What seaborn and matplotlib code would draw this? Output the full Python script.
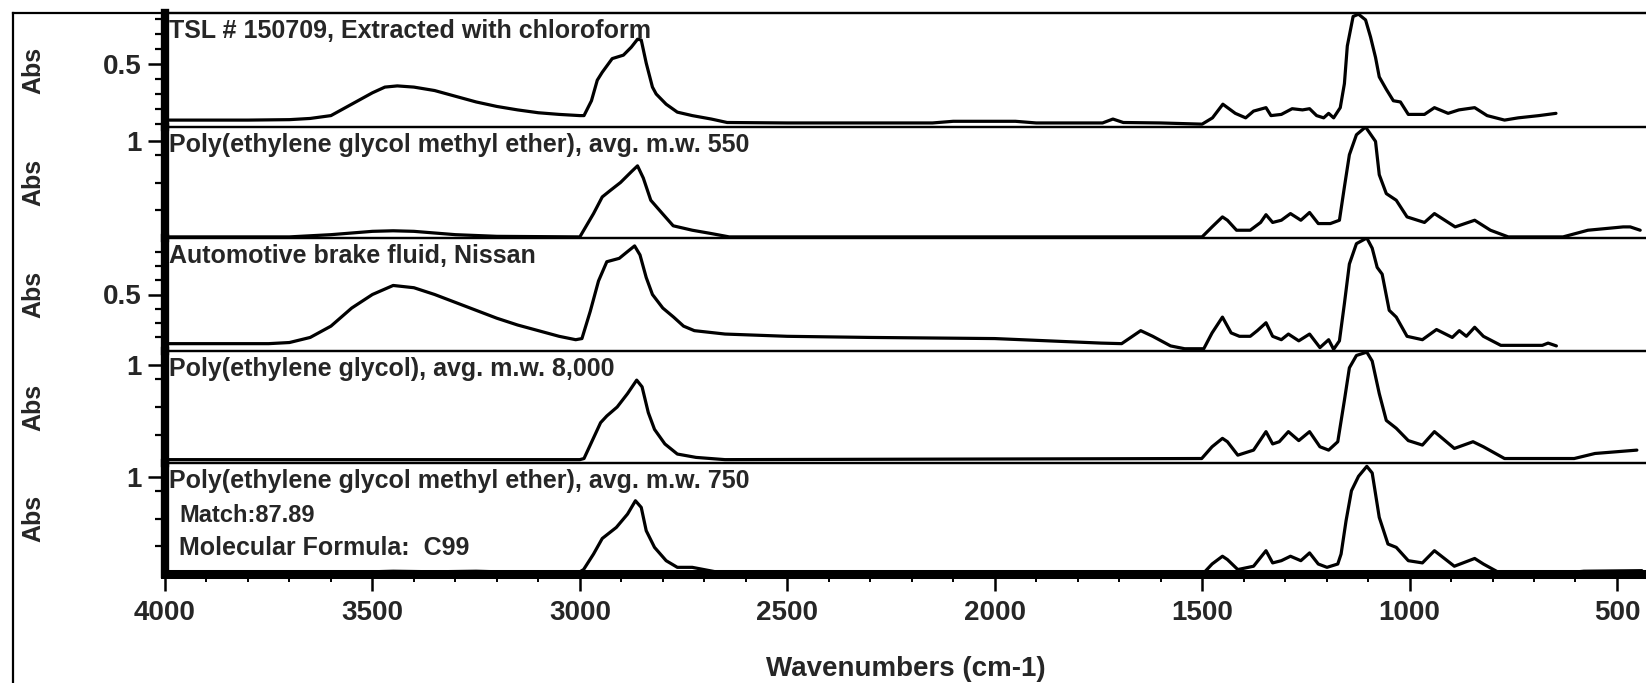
import matplotlib
matplotlib.use("Agg")
import matplotlib.pyplot as plt
import seaborn as sns
import pandas as pd

# ---------------- data ----------------
titles = [
    "TSL # 150709, Extracted with chloroform",
    "Poly(ethylene glycol methyl ether), avg. m.w. 550",
    "Automotive brake fluid, Nissan",
    "Poly(ethylene glycol), avg. m.w. 8,000",
    "Poly(ethylene glycol methyl ether), avg. m.w. 750",
]
match_text = "Match:87.89"
formula_text = "Molecular Formula:  C99"

x_ticks = [4000, 3500, 3000, 2500, 2000, 1500, 1000, 500]
x_tick_labels = ["4000", "3500", "3000", "2500", "2000", "1500", "1000", "500"]

wn_tsl = [4000, 3800, 3700, 3650, 3600, 3550, 3500, 3470, 3440, 3400, 3350, 3300, 3250, 3200,
          3150, 3100, 3050, 3000, 2990, 2972, 2958, 2946, 2922, 2895, 2876, 2861, 2852, 2840,
          2825, 2816, 2792, 2765, 2729, 2683, 2645, 2500, 2150, 2100, 1950, 1900, 1740, 1715,
          1690, 1600, 1500, 1475, 1450, 1420, 1395, 1376, 1346, 1334, 1309, 1283, 1258, 1241,
          1224, 1207, 1195, 1183, 1167, 1157, 1150, 1136, 1123, 1106, 1094, 1082, 1073, 1056,
          1039, 1022, 1003, 964, 940, 907, 881, 843, 813, 771, 738, 688, 647]
abs_tsl = [0.126, 0.126, 0.129, 0.137, 0.156, 0.232, 0.308, 0.346, 0.354, 0.346, 0.323, 0.285,
           0.247, 0.217, 0.194, 0.175, 0.164, 0.156, 0.156, 0.255, 0.392, 0.445, 0.536, 0.559,
           0.612, 0.665, 0.660, 0.506, 0.346, 0.300, 0.232, 0.179, 0.156, 0.133, 0.110, 0.107,
           0.107, 0.118, 0.118, 0.107, 0.107, 0.133, 0.110, 0.107, 0.099, 0.141, 0.232, 0.171,
           0.141, 0.186, 0.209, 0.156, 0.164, 0.202, 0.194, 0.202, 0.156, 0.141, 0.171, 0.141,
           0.209, 0.369, 0.620, 0.817, 0.832, 0.794, 0.680, 0.544, 0.414, 0.331, 0.255, 0.247,
           0.164, 0.164, 0.209, 0.171, 0.194, 0.209, 0.156, 0.126, 0.141, 0.156, 0.171]

wn_peg550 = [4000, 3700, 3600, 3500, 3450, 3400, 3300, 3200, 3000, 2967, 2946, 2926, 2902, 2875,
             2861, 2847, 2829, 2801, 2775, 2729, 2683, 2640, 1500, 1476, 1451, 1439, 1417, 1384,
             1359, 1346, 1330, 1309, 1287, 1262, 1241, 1220, 1191, 1169, 1157, 1145, 1128, 1106,
             1082, 1073, 1056, 1032, 1006, 964, 940, 890, 843, 805, 762, 630, 570, 485, 468, 444]
abs_peg550 = [0.308, 0.308, 0.324, 0.348, 0.352, 0.348, 0.324, 0.312, 0.308, 0.476, 0.596, 0.644,
              0.700, 0.780, 0.820, 0.732, 0.572, 0.476, 0.388, 0.356, 0.332, 0.308, 0.308, 0.380,
              0.452, 0.428, 0.356, 0.356, 0.412, 0.468, 0.412, 0.428, 0.476, 0.428, 0.484, 0.404,
              0.404, 0.428, 0.668, 0.900, 1.044, 1.100, 0.996, 0.756, 0.620, 0.572, 0.452, 0.412,
              0.476, 0.380, 0.428, 0.356, 0.308, 0.308, 0.356, 0.380, 0.380, 0.356]

wn_brake = [4000, 3750, 3700, 3650, 3600, 3550, 3500, 3450, 3400, 3350, 3300, 3250, 3200, 3150,
            3100, 3050, 3010, 2995, 2975, 2955, 2935, 2905, 2885, 2868, 2855, 2840, 2825, 2800,
            2774, 2750, 2724, 2650, 2500, 2300, 2000, 1744, 1694, 1648, 1619, 1576, 1542, 1496,
            1476, 1451, 1430, 1410, 1384, 1367, 1346, 1330, 1309, 1292, 1267, 1241, 1216, 1195,
            1183, 1169, 1157, 1145, 1128, 1103, 1090, 1078, 1066, 1049, 1032, 1006, 969, 935,
            897, 880, 863, 843, 822, 780, 680, 666, 646]
abs_brake = [0.152, 0.152, 0.160, 0.196, 0.276, 0.404, 0.500, 0.564, 0.548, 0.500, 0.444, 0.388,
             0.332, 0.284, 0.244, 0.204, 0.180, 0.188, 0.380, 0.596, 0.732, 0.756, 0.804, 0.844,
             0.780, 0.620, 0.500, 0.404, 0.340, 0.276, 0.244, 0.220, 0.204, 0.196, 0.188, 0.156,
             0.152, 0.244, 0.204, 0.136, 0.116, 0.116, 0.228, 0.340, 0.228, 0.204, 0.204, 0.244,
             0.300, 0.204, 0.180, 0.220, 0.172, 0.220, 0.124, 0.180, 0.112, 0.172, 0.436, 0.716,
             0.860, 0.900, 0.828, 0.692, 0.644, 0.388, 0.340, 0.204, 0.180, 0.252, 0.196, 0.244,
             0.204, 0.268, 0.204, 0.140, 0.140, 0.156, 0.136]

wn_peg8000 = [4000, 3000, 2990, 2970, 2950, 2935, 2910, 2885, 2863, 2850, 2835, 2820, 2795, 2765,
              2720, 2650, 1501, 1476, 1451, 1439, 1414, 1376, 1346, 1330, 1314, 1292, 1267, 1241,
              1216, 1195, 1173, 1157, 1145, 1128, 1103, 1090, 1073, 1056, 1032, 1003, 969, 940,
              892, 847, 822, 771, 603, 553, 452]
abs_peg8000 = [0.324, 0.324, 0.332, 0.460, 0.588, 0.636, 0.700, 0.796, 0.892, 0.844, 0.660, 0.540,
               0.436, 0.364, 0.340, 0.324, 0.332, 0.416, 0.476, 0.452, 0.356, 0.392, 0.524, 0.436,
               0.452, 0.524, 0.460, 0.524, 0.416, 0.392, 0.452, 0.748, 0.980, 1.068, 1.092, 1.028,
               0.796, 0.604, 0.548, 0.460, 0.428, 0.524, 0.404, 0.452, 0.416, 0.332, 0.332, 0.368,
               0.392]

wn_peg750 = [4000, 3600, 3450, 3350, 3250, 3100, 3004, 2991, 2967, 2946, 2912, 2885, 2866, 2852,
             2840, 2820, 2792, 2765, 2729, 2673, 2600, 1496, 1476, 1451, 1439, 1414, 1376, 1346,
             1330, 1309, 1287, 1262, 1241, 1220, 1199, 1173, 1165, 1153, 1140, 1123, 1103, 1090,
             1073, 1052, 1032, 1003, 969, 940, 892, 843, 822, 788, 620, 580, 440]
abs_peg750 = [0.308, 0.308, 0.320, 0.316, 0.320, 0.308, 0.308, 0.332, 0.444, 0.556, 0.636, 0.732,
              0.828, 0.780, 0.612, 0.492, 0.396, 0.348, 0.348, 0.316, 0.308, 0.308, 0.372, 0.428,
              0.404, 0.332, 0.356, 0.468, 0.380, 0.396, 0.428, 0.396, 0.452, 0.372, 0.348, 0.372,
              0.444, 0.684, 0.900, 1.004, 1.076, 1.028, 0.708, 0.516, 0.492, 0.396, 0.380, 0.468,
              0.356, 0.412, 0.372, 0.316, 0.308, 0.320, 0.324]

spectra = [(wn_tsl, abs_tsl), (wn_peg550, abs_peg550), (wn_brake, abs_brake),
           (wn_peg8000, abs_peg8000), (wn_peg750, abs_peg750)]

y_limits = [(0.08, 0.84), (0.3, 1.1), (0.1, 0.9), (0.3, 1.1), (0.3, 1.1)]
y_major = [[0.5], [1.0], [0.5], [1.0], [1.0]]
y_major_labels = [["0.5"], ["1"], ["0.5"], ["1"], ["1"]]
y_minor = [[0.1, 0.2, 0.3, 0.4, 0.6, 0.7, 0.8], [0.5, 0.7, 0.9],
           [0.2, 0.3, 0.4, 0.6, 0.7, 0.8], [0.5, 0.7, 0.9], [0.5, 0.7, 0.9]]

# ---------------- style ----------------
sns.set_style("ticks")
plt.rcParams["font.family"] = ["Liberation Sans", "DejaVu Sans"]
plt.rcParams["font.weight"] = "bold"

W, H = 1646, 683
fig = plt.figure(figsize=(W / 100, H / 100), dpi=100)
fig.patch.set_facecolor("white")

# outer frame (left and top lines)
frame = fig.add_axes([13 / W, 0, 1 - 13 / W, 1 - 13 / H], zorder=0)
frame.set_facecolor("none")
frame.set_xticks([])
frame.set_yticks([])
for s in ["right", "bottom"]:
    frame.spines[s].set_visible(False)
for s in ["left", "top"]:
    frame.spines[s].set_linewidth(1.6)
    frame.spines[s].set_color("black")

edges = [13, 127, 238, 351, 463, 574]
left_px = 165
fs_title = 18
fs_tick = 20

for i, ((wn, ab), title) in enumerate(zip(spectra, titles)):
    top, bot = edges[i], edges[i + 1]
    ax = fig.add_axes([left_px / W, 1 - bot / H, 1 - left_px / W, (bot - top) / H], zorder=2)
    ax.set_facecolor("none")
    df = pd.DataFrame({"wavenumber": wn, "abs": ab})
    sns.lineplot(data=df, x="wavenumber", y="abs", ax=ax, color="black",
                 linewidth=2.3, estimator=None)
    ax.set_xlim(4000, 430)
    ax.set_ylim(*y_limits[i])

    ax.spines["right"].set_visible(False)
    ax.spines["left"].set_linewidth(6)
    ax.spines["top"].set_linewidth(1.6)
    ax.spines["bottom"].set_linewidth(6.5 if i == 4 else 1.6)
    for s in ax.spines.values():
        s.set_color("black")

    ax.set_yticks(y_major[i])
    ax.set_yticklabels(y_major_labels[i], fontsize=fs_tick, fontweight="bold")
    ax.set_yticks(y_minor[i], minor=True)
    ax.tick_params(axis="y", which="major", direction="out", length=12, width=1.8,
                   pad=5, left=True, color="black")
    ax.tick_params(axis="y", which="minor", direction="out", length=7, width=1.6,
                   left=True, color="black")

    ax.set_ylabel("Abs", fontsize=18, fontweight="bold")
    ax.yaxis.set_label_coords(-0.081, 0.5)

    if i < 4:
        ax.set_xticks([])
        ax.set_xlabel("")
    else:
        ax.set_xticks(x_ticks)
        ax.set_xticklabels(x_tick_labels, fontsize=fs_tick, fontweight="bold")
        ax.set_xticks(list(range(3900, 400, -100)), minor=True)
        ax.tick_params(axis="x", which="major", direction="out", length=12, width=1.8,
                       pad=7, bottom=True, color="black")
        ax.tick_params(axis="x", which="minor", direction="out", length=6, width=1.4,
                       bottom=True, color="black")
        ax.set_xlabel("Wavenumbers (cm-1)", fontsize=20, fontweight="bold", labelpad=21)
        ax.text(0.0095, 0.53, match_text, transform=ax.transAxes, ha="left", va="center",
                fontsize=17, fontweight="bold")
        ax.text(0.0095, 0.23, formula_text, transform=ax.transAxes, ha="left", va="center",
                fontsize=18, fontweight="bold")

    ax.text(0.003, 0.95, title, transform=ax.transAxes, ha="left", va="top",
            fontsize=fs_title, fontweight="bold")

fig.savefig("out.png", dpi=100, facecolor="white")
